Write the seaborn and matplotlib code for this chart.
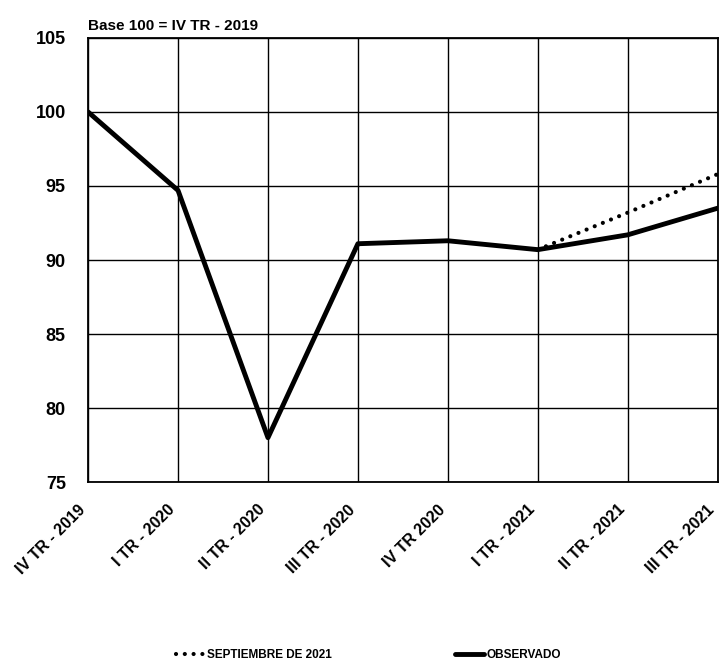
import matplotlib
matplotlib.use("Agg")
import matplotlib.pyplot as plt
import numpy as np
import pandas as pd
import seaborn as sns

quarters = ["IV TR - 2019", "I TR - 2020", "II TR - 2020", "III TR - 2020",
            "IV TR 2020", "I TR - 2021", "II TR - 2021", "III TR - 2021"]
observado = [100.0, 94.7, 78.0, 91.1, 91.3, 90.7, 91.7, 93.5]
septiembre = [np.nan, np.nan, np.nan, np.nan, np.nan, 90.7, 93.2, 95.8]

sns.set_theme(style="white", rc={"text.color": "black", "xtick.color": "black",
                                 "ytick.color": "black"})
plt.rcParams["font.family"] = ["Liberation Sans", "DejaVu Sans"]

df = pd.DataFrame({"pos": range(len(quarters)),
                   "SEPTIEMBRE DE 2021": septiembre,
                   "OBSERVADO": observado})

fig = plt.figure(figsize=(7.22, 6.65), dpi=100)
ax = fig.add_axes([0.122, 0.275, 0.872, 0.668])

sns.lineplot(data=df, x="pos", y="SEPTIEMBRE DE 2021", ax=ax, color="black",
             linewidth=3.0, linestyle=(0, (0.01, 2.1)), dash_capstyle="round",
             label="SEPTIEMBRE DE 2021")
sns.lineplot(data=df, x="pos", y="OBSERVADO", ax=ax, color="black",
             linewidth=3.5, label="OBSERVADO")

ax.set_xlim(0, len(quarters) - 1)
ax.set_ylim(75, 105)
ax.set_yticks(range(75, 106, 5))
ax.set_xticks(range(len(quarters)))
# bottom-anchored so the rotated text sits left of its tick and stays inside
ax.set_xticklabels(quarters, rotation=45, ha="right", va="bottom",
                   rotation_mode="anchor", fontsize=11.5, fontweight="bold")
ax.tick_params(axis="y", labelsize=13, length=0, pad=16)
ax.tick_params(axis="x", length=0, pad=22)
for lab in ax.get_yticklabels():
    lab.set_fontweight("bold")
ax.grid(True, color="black", linewidth=1.0)
for s in ax.spines.values():
    s.set_color("black")
    s.set_linewidth(1.3)
ax.set_xlabel("")
ax.set_ylabel("")
ax.text(0.0, 1.012, "Base 100 = IV TR - 2019", transform=ax.transAxes,
        fontsize=11, fontweight="bold", ha="left", va="bottom")

leg = ax.legend(loc="center", bbox_to_anchor=(0.51, 0.015),
                bbox_transform=fig.transFigure, ncol=2, frameon=False,
                prop={"size": 8.5, "weight": "bold"}, handlelength=2.4,
                columnspacing=10.5, handletextpad=0.2)
for h in leg.get_lines():
    h.set_dash_capstyle("round")

fig.savefig("out.png", dpi=100)
